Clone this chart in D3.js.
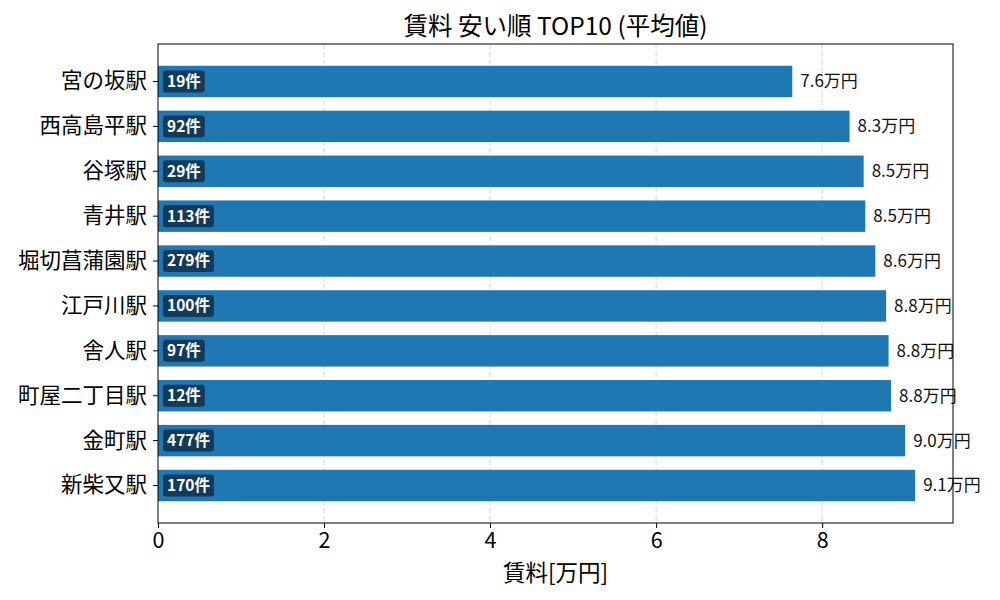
<!DOCTYPE html>
<html>
<head>
<meta charset="utf-8">
<script src="https://cdn.jsdelivr.net/npm/d3@7"></script>
<style>
  body { margin: 0; background: #fff; }
  text { font-family: "Noto Sans CJK JP", "Noto Sans", sans-serif; }
</style>
</head>
<body>
<div id="chart"></div>
<script>
// stations, cheapest first (top to bottom)
const stations = ["宮の坂駅", "西高島平駅", "谷塚駅", "青井駅", "堀切菖蒲園駅",
  "江戸川駅", "舎人駅", "町屋二丁目駅", "金町駅", "新柴又駅"];
const rents = [7.64, 8.33, 8.50, 8.52, 8.64, 8.77, 8.80, 8.83, 9.00, 9.12];
const counts = [19, 92, 29, 113, 279, 100, 97, 12, 477, 170];
const xTicks = [0, 2, 4, 6, 8];

const W = 1000, H = 600;
const m = { left: 158, right: 47, top: 44, bottom: 77 };

const svg = d3.select("#chart").append("svg")
  .attr("width", W).attr("height", H);

const data = stations.map((s, i) => ({ name: s, rent: rents[i], n: counts[i] }));

const xMax = d3.max(rents) * 1.05;
const x = d3.scaleLinear().domain([0, xMax]).range([m.left, W - m.right]);
const y = d3.scaleBand().domain(stations)
  .range([m.top, H - m.bottom])
  .paddingInner(0.3).paddingOuter(0.485);

// grid
svg.append("g").selectAll("line")
  .data(xTicks.filter(t => t > 0))
  .join("line")
    .attr("x1", d => x(d)).attr("x2", d => x(d))
    .attr("y1", m.top).attr("y2", H - m.bottom)
    .attr("stroke", "#b0b0b0").attr("stroke-opacity", 0.7)
    .attr("stroke-dasharray", "5,3").attr("stroke-width", 0.8);

// bars
svg.append("g").selectAll("rect")
  .data(data)
  .join("rect")
    .attr("x", x(0))
    .attr("y", d => y(d.name))
    .attr("width", d => x(d.rent) - x(0))
    .attr("height", y.bandwidth())
    .attr("fill", "#1f77b4");

// value labels
svg.append("g").selectAll("text")
  .data(data)
  .join("text")
    .attr("x", d => x(d.rent) + 8)
    .attr("y", d => y(d.name) + y.bandwidth() / 2)
    .attr("dy", "0.35em")
    .style("font-size", "17px")
    .style("fill", "#111")
    .text(d => d.rent.toFixed(1) + "万円");

// count badges
const badge = svg.append("g").selectAll("g")
  .data(data)
  .join("g")
    .attr("transform", d => `translate(${x(0) + 5},${y(d.name) + y.bandwidth() / 2})`);

badge.append("text")
  .attr("x", 4)
  .attr("dy", "0.35em")
  .style("font-size", "15.5px")
  .style("font-weight", "bold")
  .style("fill", "#fff")
  .text(d => d.n + "件");

badge.insert("rect", "text")
  .each(function() {
    const t = d3.select(this.parentNode).select("text").node().getBBox();
    d3.select(this)
      .attr("x", 0).attr("y", -11)
      .attr("width", t.width + 8).attr("height", 22)
      .attr("rx", 3)
      .attr("fill", "#123a5a");
  });

// axes
const xAxis = svg.append("g")
  .attr("transform", `translate(0,${H - m.bottom})`)
  .call(d3.axisBottom(x).tickValues(xTicks).tickSize(5).tickPadding(5));
xAxis.selectAll("text").style("font-size", "21.5px").style("fill", "#000");

const yAxis = svg.append("g")
  .attr("transform", `translate(${m.left},0)`)
  .call(d3.axisLeft(y).tickSize(5).tickPadding(6));
yAxis.selectAll("text").style("font-size", "21.5px").style("fill", "#000");

svg.selectAll(".domain").remove();
svg.append("rect")
  .attr("x", m.left).attr("y", m.top)
  .attr("width", W - m.right - m.left).attr("height", H - m.bottom - m.top)
  .attr("fill", "none").attr("stroke", "#000").attr("stroke-width", 1);

// titles
svg.append("text")
  .attr("x", (m.left + W - m.right) / 2).attr("y", 35)
  .attr("text-anchor", "middle")
  .style("font-size", "24.5px")
  .text("賃料 安い順 TOP10 (平均値)");

svg.append("text")
  .attr("x", (m.left + W - m.right) / 2).attr("y", 581)
  .attr("text-anchor", "middle")
  .style("font-size", "22.5px")
  .text("賃料[万円]");
</script>
</body>
</html>
